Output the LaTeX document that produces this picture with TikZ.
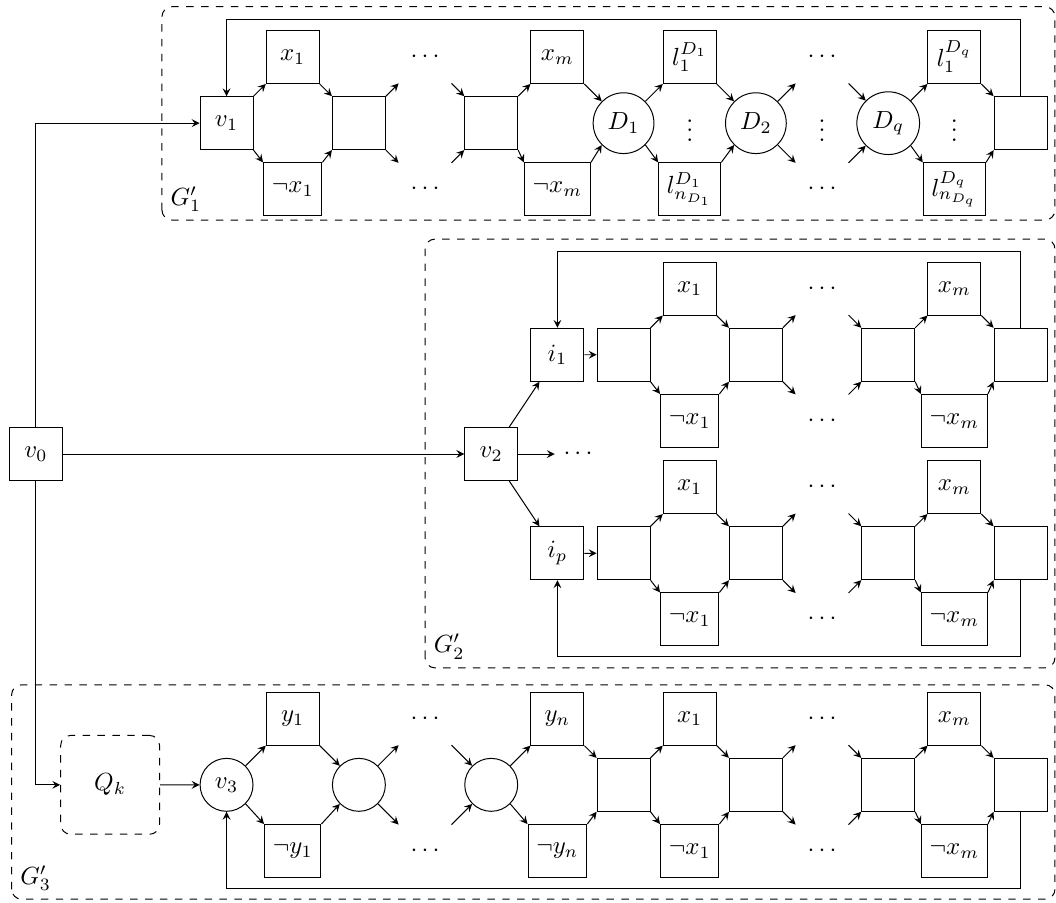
\documentclass[tikz,border=0pt]{standalone}

\begin{document}
\begin{tikzpicture}[scale=0.75,
    box/.style={draw, minimum size=0.75cm},
    hub/.style={draw, circle, minimum size=0.75cm},
    dnode/.style={draw, circle, minimum size=0.8cm},
    dots/.style={inner sep=0pt},
    grp/.style={draw, dashed, rounded corners},
    qbox/.style={draw, dashed, rounded corners, minimum size=1.4cm},
    arr/.style={->, >=stealth}
  ]
  \useasboundingbox (-0.68,-8.464) rectangle (19.27,8.577);

  \node[box] (v0) at (0,0) {$v_0$};

  % G'_1
  \draw[grp] (2.38,4.42) rectangle (19.25,8.45);
  \node[anchor=south west] (lblg1) at (2.38,4.42) {$G'_1$};
  \node[box] (v1) at (3.6,6.25) {$v_1$};
  \node[box] (x1a) at (4.85,7.5) {$x_1$};
  \node[box] (nx1a) at (4.85,5) {$\neg x_1$};
  \node[box] (b1) at (6.1,6.25) {};
  \node[dots] (dta1) at (7.35,7.5) {$\cdots$};
  \node[dots] (dta2) at (7.35,5) {$\cdots$};
  \node[box] (b2) at (8.6,6.25) {};
  \node[box] (xma) at (9.85,7.5) {$x_m$};
  \node[box] (nxma) at (9.85,5) {$\neg x_m$};
  \node[dnode] (d1) at (11.1,6.25) {$D_1$};
  \node[box] (l1a) at (12.35,7.5) {$l_1^{D_1}$};
  \node[dots] (vda1) at (12.35,6.25) {$\vdots$};
  \node[box] (lna) at (12.35,5) {$l_{n_{D_1}}^{D_1}$};
  \node[dnode] (d2) at (13.6,6.25) {$D_2$};
  \node[dots] (dta3) at (14.85,7.5) {$\cdots$};
  \node[dots] (vda2) at (14.85,6.25) {$\vdots$};
  \node[dots] (dta4) at (14.85,5) {$\cdots$};
  \node[dnode] (dq) at (16.1,6.25) {$D_q$};
  \node[box] (l1q) at (17.35,7.5) {$l_1^{D_q}$};
  \node[dots] (vda3) at (17.35,6.25) {$\vdots$};
  \node[box] (lnq) at (17.35,5) {$l_{n_{D_q}}^{D_q}$};
  \node[box] (f1) at (18.6,6.25) {};
  \coordinate (s1a) at (6.85,7);
  \coordinate (s1b) at (6.85,5.5);
  \coordinate (s1c) at (7.85,7);
  \coordinate (s1d) at (7.85,5.5);
  \coordinate (s1e) at (14.35,7);
  \coordinate (s1f) at (14.35,5.5);
  \coordinate (s1g) at (15.35,7);
  \coordinate (s1h) at (15.35,5.5);
  \coordinate (lp1) at (11,8.2);

  \draw[arr] (v1.north east) -- (x1a.south west);
  \draw[arr] (v1.south east) -- (nx1a.north west);
  \draw[arr] (x1a.south east) -- (b1.north west);
  \draw[arr] (nx1a.north east) -- (b1.south west);
  \draw[arr] (b1.north east) -- (s1a);
  \draw[arr] (b1.south east) -- (s1b);
  \draw[arr] (s1c) -- (b2.north west);
  \draw[arr] (s1d) -- (b2.south west);
  \draw[arr] (b2.north east) -- (xma.south west);
  \draw[arr] (b2.south east) -- (nxma.north west);
  \draw[arr] (xma.south east) -- (d1.north west);
  \draw[arr] (nxma.north east) -- (d1.south west);
  \draw[arr] (d1.north east) -- (l1a.south west);
  \draw[arr] (d1.south east) -- (lna.north west);
  \draw[arr] (l1a.south east) -- (d2.north west);
  \draw[arr] (lna.north east) -- (d2.south west);
  \draw[arr] (d2.north east) -- (s1e);
  \draw[arr] (d2.south east) -- (s1f);
  \draw[arr] (s1g) -- (dq.north west);
  \draw[arr] (s1h) -- (dq.south west);
  \draw[arr] (dq.north east) -- (l1q.south west);
  \draw[arr] (dq.south east) -- (lnq.north west);
  \draw[arr] (l1q.south east) -- (f1.north west);
  \draw[arr] (lnq.north east) -- (f1.south west);
  \draw[arr] (f1.north) |- (lp1) -| (v1.north);

  % G'_2
  \draw[grp] (7.35,-4.04) rectangle (19.25,4.06);
  \node[anchor=south west] (lblg2) at (7.35,-4.04) {$G'_2$};
  \node[box] (v2) at (8.6,0) {$v_2$};
  \node[anchor=west] (idots) at (9.8,0) {$\cdots$};
  % first copy
  \node[box] (i1) at (9.85,1.875) {$i_1$};
  \node[box] (c11) at (11.1,1.875) {};
  \node[box] (x1b) at (12.35,3.125) {$x_1$};
  \node[box] (nx1b) at (12.35,0.625) {$\neg x_1$};
  \node[box] (c12) at (13.6,1.875) {};
  \node[dots] (dtb1) at (14.85,3.125) {$\cdots$};
  \node[dots] (dtb2) at (14.85,0.625) {$\cdots$};
  \node[box] (c13) at (16.1,1.875) {};
  \node[box] (xmb) at (17.35,3.125) {$x_m$};
  \node[box] (nxmb) at (17.35,0.625) {$\neg x_m$};
  \node[box] (c14) at (18.6,1.875) {};
  \coordinate (s2a) at (14.35,2.625);
  \coordinate (s2b) at (14.35,1.125);
  \coordinate (s2c) at (15.35,2.625);
  \coordinate (s2d) at (15.35,1.125);
  \coordinate (lp2a) at (14,3.825);
  % last copy
  \node[box] (ip) at (9.85,-1.875) {$i_p$};
  \node[box] (c21) at (11.1,-1.875) {};
  \node[box] (x1c) at (12.35,-0.625) {$x_1$};
  \node[box] (nx1c) at (12.35,-3.125) {$\neg x_1$};
  \node[box] (c22) at (13.6,-1.875) {};
  \node[dots] (dtc1) at (14.85,-0.625) {$\cdots$};
  \node[dots] (dtc2) at (14.85,-3.125) {$\cdots$};
  \node[box] (c23) at (16.1,-1.875) {};
  \node[box] (xmc) at (17.35,-0.625) {$x_m$};
  \node[box] (nxmc) at (17.35,-3.125) {$\neg x_m$};
  \node[box] (c24) at (18.6,-1.875) {};
  \coordinate (s3a) at (14.35,-1.125);
  \coordinate (s3b) at (14.35,-2.625);
  \coordinate (s3c) at (15.35,-1.125);
  \coordinate (s3d) at (15.35,-2.625);
  \coordinate (lp2b) at (14,-3.825);

  \draw[arr] (v2) -- (i1);
  \draw[arr] (v2) -- (idots);
  \draw[arr] (v2) -- (ip);
  \draw[arr] (i1) -- (c11);
  \draw[arr] (c11.north east) -- (x1b.south west);
  \draw[arr] (c11.south east) -- (nx1b.north west);
  \draw[arr] (x1b.south east) -- (c12.north west);
  \draw[arr] (nx1b.north east) -- (c12.south west);
  \draw[arr] (c12.north east) -- (s2a);
  \draw[arr] (c12.south east) -- (s2b);
  \draw[arr] (s2c) -- (c13.north west);
  \draw[arr] (s2d) -- (c13.south west);
  \draw[arr] (c13.north east) -- (xmb.south west);
  \draw[arr] (c13.south east) -- (nxmb.north west);
  \draw[arr] (xmb.south east) -- (c14.north west);
  \draw[arr] (nxmb.north east) -- (c14.south west);
  \draw[arr] (c14.north) |- (lp2a) -| (i1.north);
  \draw[arr] (ip) -- (c21);
  \draw[arr] (c21.north east) -- (x1c.south west);
  \draw[arr] (c21.south east) -- (nx1c.north west);
  \draw[arr] (x1c.south east) -- (c22.north west);
  \draw[arr] (nx1c.north east) -- (c22.south west);
  \draw[arr] (c22.north east) -- (s3a);
  \draw[arr] (c22.south east) -- (s3b);
  \draw[arr] (s3c) -- (c23.north west);
  \draw[arr] (s3d) -- (c23.south west);
  \draw[arr] (c23.north east) -- (xmc.south west);
  \draw[arr] (c23.south east) -- (nxmc.north west);
  \draw[arr] (xmc.south east) -- (c24.north west);
  \draw[arr] (nxmc.north east) -- (c24.south west);
  \draw[arr] (c24.south) |- (lp2b) -| (ip.south);

  % G'_3
  \draw[grp] (-0.46,-8.41) rectangle (19.25,-4.36);
  \node[anchor=south west] (lblg3) at (-0.46,-8.41) {$G'_3$};
  \node[qbox] (qk) at (1.4,-6.25) {$Q_k$};
  \node[hub] (v3) at (3.6,-6.25) {$v_3$};
  \node[box] (y1) at (4.85,-5) {$y_1$};
  \node[box] (ny1) at (4.85,-7.5) {$\neg y_1$};
  \node[hub] (e1) at (6.1,-6.25) {};
  \node[dots] (dtd1) at (7.35,-5) {$\cdots$};
  \node[dots] (dtd2) at (7.35,-7.5) {$\cdots$};
  \node[hub] (e2) at (8.6,-6.25) {};
  \node[box] (yn) at (9.85,-5) {$y_n$};
  \node[box] (nyn) at (9.85,-7.5) {$\neg y_n$};
  \node[box] (g1) at (11.1,-6.25) {};
  \node[box] (x1d) at (12.35,-5) {$x_1$};
  \node[box] (nx1d) at (12.35,-7.5) {$\neg x_1$};
  \node[box] (g2) at (13.6,-6.25) {};
  \node[dots] (dtd3) at (14.85,-5) {$\cdots$};
  \node[dots] (dtd4) at (14.85,-7.5) {$\cdots$};
  \node[box] (g3) at (16.1,-6.25) {};
  \node[box] (xmd) at (17.35,-5) {$x_m$};
  \node[box] (nxmd) at (17.35,-7.5) {$\neg x_m$};
  \node[box] (g4) at (18.6,-6.25) {};
  \coordinate (s4a) at (6.85,-5.5);
  \coordinate (s4b) at (6.85,-7);
  \coordinate (s4c) at (7.85,-5.5);
  \coordinate (s4d) at (7.85,-7);
  \coordinate (s4e) at (14.35,-5.5);
  \coordinate (s4f) at (14.35,-7);
  \coordinate (s4g) at (15.35,-5.5);
  \coordinate (s4h) at (15.35,-7);
  \coordinate (lp3) at (11,-8.2);

  \draw[arr] (qk) -- (v3);
  \draw[arr] (v3.north east) -- (y1.south west);
  \draw[arr] (v3.south east) -- (ny1.north west);
  \draw[arr] (y1.south east) -- (e1.north west);
  \draw[arr] (ny1.north east) -- (e1.south west);
  \draw[arr] (e1.north east) -- (s4a);
  \draw[arr] (e1.south east) -- (s4b);
  \draw[arr] (s4c) -- (e2.north west);
  \draw[arr] (s4d) -- (e2.south west);
  \draw[arr] (e2.north east) -- (yn.south west);
  \draw[arr] (e2.south east) -- (nyn.north west);
  \draw[arr] (yn.south east) -- (g1.north west);
  \draw[arr] (nyn.north east) -- (g1.south west);
  \draw[arr] (g1.north east) -- (x1d.south west);
  \draw[arr] (g1.south east) -- (nx1d.north west);
  \draw[arr] (x1d.south east) -- (g2.north west);
  \draw[arr] (nx1d.north east) -- (g2.south west);
  \draw[arr] (g2.north east) -- (s4e);
  \draw[arr] (g2.south east) -- (s4f);
  \draw[arr] (s4g) -- (g3.north west);
  \draw[arr] (s4h) -- (g3.south west);
  \draw[arr] (g3.north east) -- (xmd.south west);
  \draw[arr] (g3.south east) -- (nxmd.north west);
  \draw[arr] (xmd.south east) -- (g4.north west);
  \draw[arr] (nxmd.north east) -- (g4.south west);
  \draw[arr] (g4.south) |- (lp3) -| (v3.south);

  % from v0
  \draw[arr] (v0) |- (v1);
  \draw[arr] (v0) -- (v2);
  \draw[arr] (v0) |- (qk);
\end{tikzpicture}
\end{document}
